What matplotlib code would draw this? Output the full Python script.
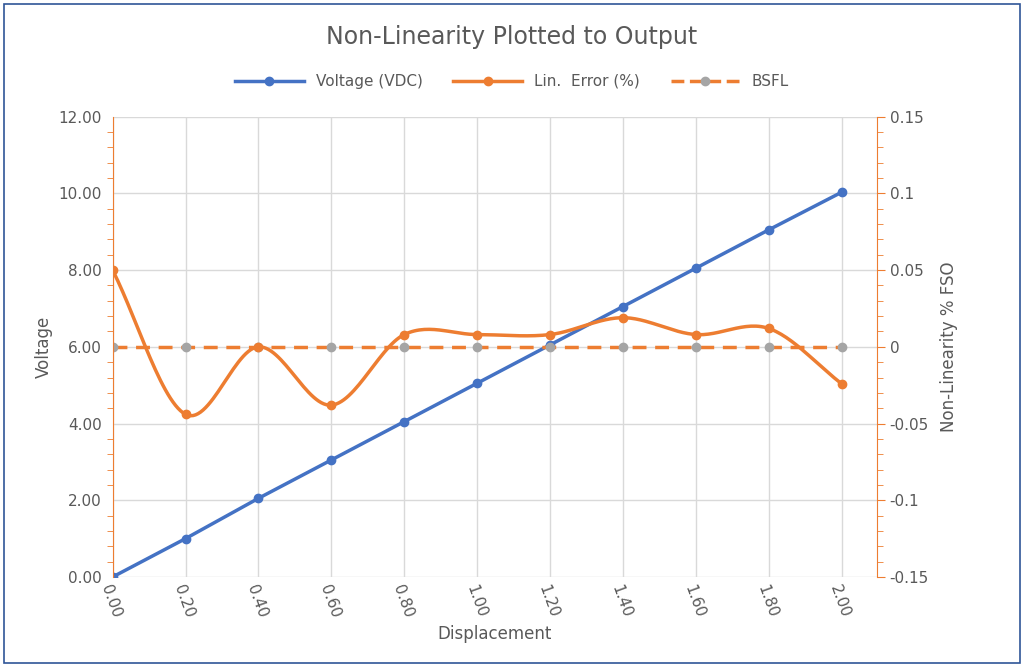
import numpy as np
import matplotlib
matplotlib.use('Agg')
import matplotlib.pyplot as plt
from matplotlib.ticker import MultipleLocator, FixedLocator

displacement = [0.0, 0.2, 0.4, 0.6, 0.8, 1.0, 1.2, 1.4, 1.6, 1.8, 2.0]
voltage = [0.0, 1.0, 2.05, 3.05, 4.05, 5.05, 6.05, 7.05, 8.05, 9.05, 10.03]
lin_error = [0.05, -0.044, 0.0, -0.038, 0.008, 0.008, 0.008, 0.019, 0.008, 0.012, -0.024]
bsfl = [0.0] * 11

BLUE = '#4472C4'
ORANGE = '#ED7D31'
GRAY = '#A5A5A5'
TXT = '#595959'


def catmull(x, y, n=30):
    x = np.asarray(x); y = np.asarray(y)
    px = np.concatenate([[2 * x[0] - x[1]], x, [2 * x[-1] - x[-2]]])
    py = np.concatenate([[2 * y[0] - y[1]], y, [2 * y[-1] - y[-2]]])
    xs, ys = [], []
    t = np.linspace(0, 1, n)
    for i in range(1, len(px) - 2):
        for p, out in ((px, xs), (py, ys)):
            p0, p1, p2, p3 = p[i - 1], p[i], p[i + 1], p[i + 2]
            out.extend(0.5 * (2 * p1 + (-p0 + p2) * t + (2 * p0 - 5 * p1 + 4 * p2 - p3) * t ** 2
                              + (-p0 + 3 * p1 - 3 * p2 + p3) * t ** 3))
    return xs, ys


fig = plt.figure(figsize=(10.24, 6.67), dpi=100)
ax = fig.add_axes([0.110, 0.135, 0.746, 0.690])
ax2 = ax.twinx()

ax.plot(displacement, voltage, color=BLUE, lw=2.5, zorder=3)
ax.plot(displacement, voltage, 'o', color=BLUE, ms=6, zorder=4)
ex, ey = catmull(displacement, lin_error)
ax2.plot(ex, ey, color=ORANGE, lw=2.5, zorder=3)
ax2.plot(displacement, lin_error, 'o', color=ORANGE, ms=6, zorder=4)
ax2.plot(displacement, bsfl, '--', color=ORANGE, lw=2.5, dashes=(4, 2.5), zorder=2)
ax2.plot(displacement, bsfl, 'o', color=GRAY, ms=6, zorder=2.5)

ax.set_xlim(0, 2.096)
ax.set_ylim(0, 12)
ax2.set_ylim(-0.15, 0.15)
ax.xaxis.set_major_locator(FixedLocator(displacement))
ax.set_xticklabels([f'{v:.2f}' for v in displacement], rotation=-70, ha='left', va='top',
                   rotation_mode='anchor', color=TXT, fontsize=11)
ax.yaxis.set_major_locator(MultipleLocator(2))
ax.yaxis.set_minor_locator(MultipleLocator(0.4))
ax.set_yticklabels([f'{v:.2f}' for v in ax.get_yticks()], color=TXT, fontsize=11)
ax2.yaxis.set_major_locator(MultipleLocator(0.05))
ax2.yaxis.set_minor_locator(MultipleLocator(0.01))
ax2.set_yticks([-0.15, -0.1, -0.05, 0, 0.05, 0.1, 0.15])
ax2.set_yticklabels(['-0.15', '-0.1', '-0.05', '0', '0.05', '0.1', '0.15'], color=TXT, fontsize=11)

ax.grid(True, which='major', color='#D9D9D9', lw=1)
ax.set_axisbelow(True)
for a in (ax, ax2):
    for s in a.spines.values():
        s.set_visible(False)
ax2.spines['left'].set_visible(True)
ax2.spines['left'].set_color(ORANGE)
ax2.spines['right'].set_visible(True)
ax2.spines['right'].set_color(ORANGE)
ax.tick_params(axis='x', length=0, pad=4)
ax.tick_params(axis='y', which='both', color=ORANGE, length=4)
ax.tick_params(axis='y', which='major', length=0, pad=8)
ax.tick_params(axis='y', which='minor', direction='out', length=4, color=ORANGE)
ax2.tick_params(axis='y', which='both', color=ORANGE, length=4, direction='out')
ax2.tick_params(axis='y', which='major', length=6)

ax.set_xlabel('Displacement', color=TXT, fontsize=12)
ax.set_ylabel('Voltage', color=TXT, fontsize=12)
ax2.set_ylabel('Non-Linearity % FSO', color=TXT, fontsize=12, labelpad=8)
fig.text(0.5, 0.945, 'Non-Linearity Plotted to Output', ha='center', va='center', color=TXT, fontsize=17)

h = [plt.Line2D([], [], color=BLUE, lw=2.5, marker='o', ms=6),
     plt.Line2D([], [], color=ORANGE, lw=2.5, marker='o', ms=6),
     plt.Line2D([], [], color=ORANGE, lw=2.5, ls='--', marker='o', ms=6, mfc=GRAY, mec=GRAY)]
fig.legend(h, ['Voltage (VDC)', 'Lin.  Error (%)', 'BSFL'], loc='center', bbox_to_anchor=(0.5, 0.878),
           ncol=3, frameon=False, fontsize=11, labelcolor=TXT, handlelength=4.5, columnspacing=2)

fig.patches.append(plt.Rectangle((0.004, 0.006), 0.992, 0.988, transform=fig.transFigure,
                                 fill=False, edgecolor='#2F5597', lw=1.2))
fig.savefig('out.png', dpi=100)
